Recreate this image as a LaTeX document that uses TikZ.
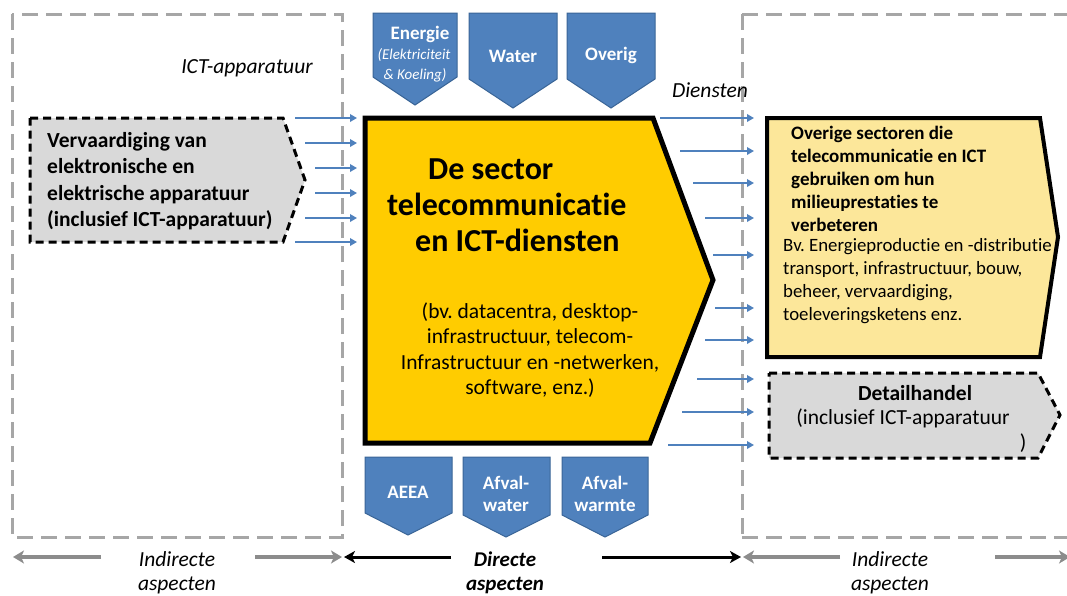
\documentclass[tikz,border=0pt]{standalone}
\usepackage{fontspec}
\setmainfont{Carlito}[Ligatures=NoCommon]
\usetikzlibrary{arrows.meta}
\frenchspacing
\definecolor{ictblue}{HTML}{4F81BD}
\definecolor{ictblueedge}{HTML}{3A6597}
\definecolor{sectoryellow}{HTML}{FFCC00}
\definecolor{lightyellow}{HTML}{FCE79A}
\definecolor{boxgray}{HTML}{D9D9D9}
\definecolor{dashgray}{HTML}{A6A6A6}
\definecolor{arrowgray}{HTML}{8C8C8C}
\newcommand{\fs}[2]{\fontsize{#1}{#2}\selectfont}
\begin{document}
\begin{tikzpicture}[x=1pt,y=-1pt,
  region/.style={draw=dashgray, line width=3pt, dash pattern=on 16pt off 8pt},
  bluepent/.style={fill=ictblue, draw=ictblueedge, line width=1pt},
  pentlabel/.style={text=white, font=\bfseries\fs{19}{22}, align=center, inner sep=0pt},
  flow/.style={draw=ictblue, line width=2.6pt, -{Triangle[length=7pt,width=7.5pt]}},
  grayscope/.style={draw=arrowgray, line width=4pt, -{Stealth[length=11pt,width=13pt,inset=3pt]}},
  blackscope/.style={draw=black, line width=3pt, -{Stealth[length=11pt,width=12pt,inset=3pt]}},
  dashbox/.style={fill=boxgray, draw=black, line width=3pt, dash pattern=on 8pt off 5pt},
  plain/.style={inner sep=0pt, align=left}
]
\useasboundingbox (0,0) rectangle (1067,595);
\fill[white] (0,0) rectangle (1067,595);

% regions
\draw[region] (12,14) rectangle (342,537);
\draw[region] (742,14) -- (1075,14);
\draw[region] (742,537) -- (1075,537);
\draw[region] (742,14) -- (742,537);

% left inflow arrows
\foreach \y/\x in {118/295,143/305,168/315,193/315,218/305,242/295}{
  \coordinate (li\y) at (\x,\y);
  \coordinate (lo\y) at (357,\y);
  \draw[flow] (li\y) -- (lo\y);
}
% right outflow arrows
\foreach \y/\x in {118/660,151/680,183/693,218/705,255/713,308/715,340/705,379/697,412/682,445/668}{
  \coordinate (ri\y) at (\x,\y);
  \coordinate (ro\y) at (754,\y);
  \draw[flow] (ri\y) -- (ro\y);
}

% top blue pentagons
\draw[bluepent] (373,13) -- (457,13) -- (457,77) -- (415,105) -- (373,77) -- cycle;
\draw[bluepent] (469,13) -- (557,13) -- (557,79) -- (513,108) -- (469,79) -- cycle;
\draw[bluepent] (567,13) -- (655,13) -- (655,79) -- (611,108) -- (567,79) -- cycle;
\node[pentlabel] (energie) at (420,34) {Energie};
\node[pentlabel, font=\itshape\fs{15}{18}] (elek) at (414,55) {(Elektriciteit};
\node[pentlabel, font=\itshape\fs{15}{18}] (koel) at (415,75) {\& Koeling)};
\node[pentlabel] (water) at (513,56) {Water};
\node[pentlabel] (overig) at (611,55) {Overig};

% bottom blue pentagons
\draw[bluepent] (365,457) -- (452,457) -- (452,513) -- (408,535) -- (365,513) -- cycle;
\draw[bluepent] (463,457) -- (550,457) -- (550,515) -- (506,537) -- (463,515) -- cycle;
\draw[bluepent] (562,457) -- (648,457) -- (648,515) -- (605,537) -- (562,515) -- cycle;
\node[pentlabel] (aeea) at (408,492) {AEEA};
\node[pentlabel] (afvalwater) at (506,494) {Afval-\\water};
\node[pentlabel] (afvalwarmte) at (605,494) {Afval-\\warmte};

% main sector shape
\draw[fill=sectoryellow, draw=black, line width=5pt, line join=miter]
  (365,118) -- (653,118) -- (713,280) -- (650,443) -- (365,443) -- cycle;
\node[plain, anchor=north west, font=\bfseries\fs{32}{36}] (title) at (387,159)
  {\hspace*{41pt}De sector\\telecommunicatie\\\hspace*{28pt}en ICT-diensten};
\node[inner sep=0pt, align=center, font=\fs{21.5}{25.5}] (examples) at (530,350)
  {(bv. datacentra, desktop-\\infrastructuur, telecom-\\Infrastructuur en -netwerken,\\software, enz.)};

% left manufacturing box
\draw[dashbox] (30,118) -- (283,118) -- (305,180) -- (283,242) -- (30,242) -- cycle;
\node[plain, anchor=west, font=\bfseries\fs{21.5}{26.5}] (manuf) at (47,181)
  {Vervaardiging van\\elektronische en\\elektrische apparatuur\\(inclusief ICT-apparatuur)};

% right other sectors box
\draw[fill=lightyellow, draw=black, line width=4pt, line join=miter]
  (767,118) -- (1040,118) -- (1058,237) -- (1040,357) -- (767,357) -- cycle;
\node[plain, anchor=north west, font=\bfseries\fs{19}{23}] (other) at (791,126)
  {Overige sectoren die\\telecommunicatie en ICT\\gebruiken om hun\\milieuprestaties te\\verbeteren};
\node[plain, anchor=north west, font=\fs{18.8}{23}] (examples2) at (783,238)
  {Bv. Energieproductie en -distributie\\transport, infrastructuur, bouw,\\beheer, vervaardiging,\\toeleveringsketens enz.};

% retail box
\draw[dashbox] (769,373) -- (1038,373) -- (1060,415) -- (1038,458) -- (769,458) -- cycle;
\node[inner sep=0pt, font=\bfseries\fs{21.5}{23}] (retail) at (915,393) {Detailhandel};
\node[inner sep=0pt, font=\fs{21.5}{23}] (retail2) at (903,418) {(inclusief ICT-apparatuur};
\node[inner sep=0pt, font=\fs{21.5}{23}] (retail3) at (1023,443) {)};

% italic labels
\node[inner sep=0pt, font=\itshape\fs{21.5}{24}] (ictapp) at (247,68) {ICT-apparatuur};
\node[inner sep=0pt, font=\itshape\fs{21.5}{24}] (diensten) at (710,90) {Diensten};

% bottom scope labels
\node[inner sep=0pt, align=center, font=\itshape\fs{21.5}{23.5}] (indL) at (177,573) {Indirecte\\aspecten};
\node[inner sep=0pt, align=center, font=\bfseries\itshape\fs{21}{23.5}] (dir) at (505,573) {Directe\\aspecten};
\node[inner sep=0pt, align=center, font=\itshape\fs{21.5}{23.5}] (indR) at (890,573) {Indirecte\\aspecten};

% bottom scope arrows
\coordinate (a1s) at (101,557); \coordinate (a1e) at (13,557);
\coordinate (a2s) at (255,557); \coordinate (a2e) at (342,557);
\coordinate (a3s) at (451,557); \coordinate (a3e) at (344,557);
\coordinate (a4s) at (602,557); \coordinate (a4e) at (741,557);
\coordinate (a5s) at (840,557); \coordinate (a5e) at (743,557);
\coordinate (a6s) at (995,557); \coordinate (a6e) at (1070,557);
\draw[grayscope] (a1s) -- (a1e);
\draw[grayscope] (a2s) -- (a2e);
\draw[blackscope] (a3s) -- (a3e);
\draw[blackscope] (a4s) -- (a4e);
\draw[grayscope] (a5s) -- (a5e);
\draw[grayscope] (a6s) -- (a6e);
\end{tikzpicture}
\end{document}
